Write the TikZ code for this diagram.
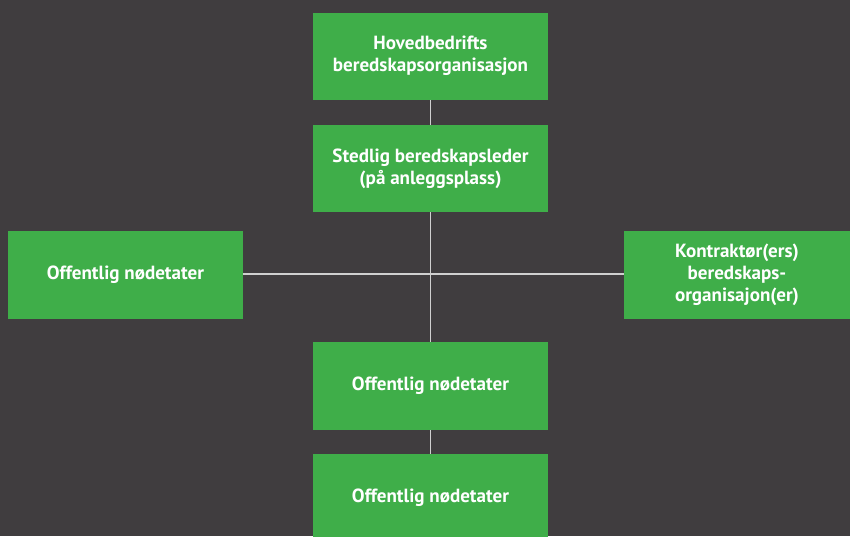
\documentclass[tikz,border=0pt]{standalone}
\usepackage{fontspec}
\setmainfont{PT Sans}
\definecolor{bgdark}{HTML}{403D3F}
\definecolor{boxgreen}{HTML}{3FAE49}
\definecolor{linkgray}{HTML}{D0D0D0}
\begin{document}
\begin{tikzpicture}[x=0.75pt,y=-0.75pt,
  orgbox/.style={fill=boxgreen,draw=none,inner sep=0pt,
    font=\bfseries\fontsize{14.3}{16.5}\selectfont,text=white,align=center},
  link/.style={draw=linkgray,line width=0.8pt}]
  \fill[bgdark] (0,0) rectangle (850,536);
  \useasboundingbox (0,0) rectangle (850,536);
  % boxes, sized in pixels
  \node[orgbox,minimum width=176.25pt,minimum height=65.25pt] (hq) at (430.5,56) {Hovedbedrifts\\beredskapsorganisasjon};
  \node[orgbox,minimum width=176.25pt,minimum height=65.25pt] (site) at (430.5,168.5) {Stedlig beredskapsleder\\(på anleggsplass)};
  \node[orgbox,minimum width=176.25pt,minimum height=66pt] (left) at (125.5,275) {Offentlig nødetater};
  \node[orgbox,minimum width=169.5pt,minimum height=66pt] (right) at (737,275) {Kontraktør(ers)\\beredskaps-\\organisajon(er)};
  \node[orgbox,minimum width=176.25pt,minimum height=66pt] (mid) at (430.5,386) {Offentlig nødetater};
  \node[orgbox,minimum width=176.25pt,minimum height=66pt] (low) at (430.5,498) {Offentlig nødetater};
  \coordinate (cross) at (430.5,274);
  % connectors
  \draw[link] (hq.south) -- (site.north);
  \draw[link] (site.south) -- (mid.north);
  \draw[link] (mid.south) -- (low.north);
  \draw[link] (left.east |- cross) -- (right.west |- cross);
\end{tikzpicture}
\end{document}
